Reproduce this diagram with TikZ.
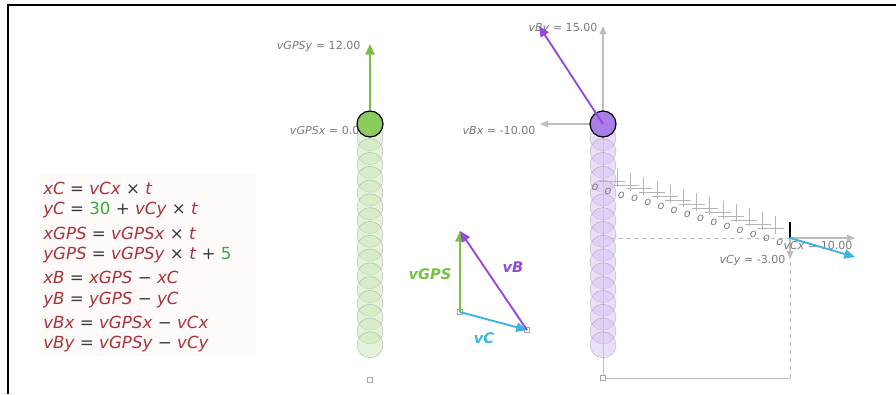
\documentclass[tikz,border=0pt]{standalone}
\usepackage{fontspec}
\setmainfont{DejaVu Sans}
\usepackage{tikz}
\usetikzlibrary{arrows.meta, positioning, calc}
\definecolor{eqRed}{HTML}{A8333B}
\definecolor{eqGreen}{HTML}{3DAA3D}
\definecolor{eqBack}{HTML}{FEFAFA}
\definecolor{opDark}{HTML}{3A3A3A}
\definecolor{labelGray}{HTML}{7A7A7A}
\definecolor{axisGray}{HTML}{BDBDBD}
\definecolor{trailGray}{HTML}{B4B4B4}
\definecolor{gpsStroke}{HTML}{78C040}
\definecolor{gpsFill}{HTML}{8ACB5E}
\definecolor{gpsGhost}{HTML}{CDE8BA}
\definecolor{bStroke}{HTML}{9548D8}
\definecolor{bFill}{HTML}{A97EEA}
\definecolor{bGhost}{HTML}{D8C4F4}
\definecolor{cStroke}{HTML}{3BB4E3}
\newcommand{\vn}[1]{\textit{#1}}
\newcommand{\op}[1]{\textcolor{opDark}{#1}}
\newcommand{\nm}[1]{\textcolor{eqGreen}{#1}}
\tikzset{
  eqline/.style={anchor=west, inner sep=0pt, text=eqRed,
    font=\fontsize{12.5}{14}\selectfont},
  vallabel/.style={inner sep=1pt, text=labelGray,
    font=\fontsize{8.3}{9}\selectfont},
  veclabel/.style={inner sep=1pt, font=\bfseries\itshape\fontsize{11}{13}\selectfont},
  ball/.style={circle, minimum size=19.5pt, inner sep=0pt, draw=black, line width=0.9pt},
  ghostG/.style={circle, minimum size=19.5pt, inner sep=0pt, fill=gpsGhost,
    fill opacity=0.55, draw=gray, draw opacity=0.45},
  ghostB/.style={circle, minimum size=19.5pt, inner sep=0pt, fill=bGhost,
    fill opacity=0.55, draw=gray, draw opacity=0.45},
  marker/.style={rectangle, minimum size=3.8pt, inner sep=0pt, draw=gray!70, fill=white, line width=0.4pt},
  trail/.style={inner sep=0pt, text=gray, font=\itshape\fontsize{8.5}{9}\selectfont},
  axis/.style={-{Triangle[length=6pt, width=5pt]}, axisGray, line width=0.8pt},
  vecG/.style={-{Triangle[length=8pt, width=7pt]}, gpsStroke, line width=1.4pt},
  vecB/.style={-{Triangle[length=8pt, width=7pt]}, bStroke, line width=1.4pt},
  vecC/.style={-{Triangle[length=8pt, width=7pt]}, cStroke, line width=1.4pt},
}

\begin{document}
\begin{tikzpicture}[x=0.75pt, y=-0.75pt]
  \useasboundingbox (0,0) rectangle (896,394);
  \draw[line width=1.5pt] (8,394) -- (8,5) -- (896,5);

  % equations
  \fill[eqBack] (40,174) rectangle (256,356);
  \node[eqline] (eqXC) at (43,188) {\vn{xC} \op{=} \vn{vCx} \op{×} \vn{t}};
  \node[eqline] (eqYC) at (43,210) {\vn{yC} \op{=} \nm{30} \op{+} \vn{vCy} \op{×} \vn{t}};
  \node[eqline] (eqXG) at (43,233) {\vn{xGPS} \op{=} \vn{vGPSx} \op{×} \vn{t}};
  \node[eqline] (eqYG) at (43,255) {\vn{yGPS} \op{=} \vn{vGPSy} \op{×} \vn{t} \op{+} \nm{5}};
  \node[eqline] (eqXB) at (43,277) {\vn{xB} \op{=} \vn{xGPS} \op{−} \vn{xC}};
  \node[eqline] (eqYB) at (43,300) {\vn{yB} \op{=} \vn{yGPS} \op{−} \vn{yC}};
  \node[eqline] (eqVBX) at (43,322) {\vn{vBx} \op{=} \vn{vGPSx} \op{−} \vn{vCx}};
  \node[eqline] (eqVBY) at (43,344) {\vn{vBy} \op{=} \vn{vGPSy} \op{−} \vn{vCy}};

  % GPS column
  \node[vallabel, anchor=east] (lblGy) at (362,47) {\textit{vGPSy} = 12.00};
  \node[vallabel, anchor=east] (lblGx) at (368,130) {\textit{vGPSx} = 0.00};
  \foreach \k in {1,...,16} {
    \node[ghostG] (gG\k) at (370,{124+13.8*\k}) {};
  }
  \coordinate (gpsTip) at (370,44);
  \node[ball, fill=gpsFill] (gpsBall) at (370,124) {};
  \draw[vecG] (gpsBall.north) -- (gpsTip);
  \node[marker] (gpsMark) at (370,380) {};

  % vector triangle
  \node[marker] (triO) at (460,312) {};
  \node[marker] (triC) at (527,330) {};
  \coordinate (triG) at (460,231);
  \draw[vecG] (triO.center) -- (triG);
  \draw[vecC] (triO.center) -- (triC.center);
  \draw[vecB] (triC.center) -- (triG);
  \node[veclabel, text=gpsStroke] (lblVG) at (430,274) {vGPS};
  \node[veclabel, text=bStroke] (lblVB) at (513,267) {vB};
  \node[veclabel, text=cStroke] (lblVC) at (484,338) {vC};

  % B column
  \node[marker] (bMark) at (603,378) {};
  \coordinate (cPos) at (790,238);
  \draw[axisGray, line width=0.5pt] (603,124) -- (bMark.north);
  \draw[axisGray, line width=0.5pt] (bMark.east) -- (cPos |- bMark);
  \draw[axisGray, dashed, line width=0.5pt] (603,238) -- (cPos);
  \draw[axisGray, dashed, line width=0.5pt] (cPos) -- (cPos |- bMark);
  \foreach \k in {1,...,16} {
    \node[ghostB] (gB\k) at (603,{124+13.8*\k}) {};
  }
  \coordinate (bxTip) at (540,124);
  \coordinate (byTip) at (603,26);
  \coordinate (bTip) at (539,26);
  \node[vallabel, anchor=east] (lblBx) at (537,130) {\textit{vBx} = -10.00};
  \node[vallabel, anchor=west] (lblBy) at (527,29) {\textit{vBy} = 15.00};
  \draw[axis] (603,124) -- (bxTip);
  \draw[axis] (603,124) -- (byTip);
  \node[ball, fill=bFill] (bBall) at (603,124) {};
  \draw[vecB] (bBall.center) -- (bTip);

  % C trail
  \foreach \k in {0,...,14} {
    \node[trail] (tr\k) at ({595+13.2*\k},{187+3.95*\k}) {o};
  }
  \foreach \k in {2,...,14} {
    \draw[trailGray, line width=0.5pt] ($(tr\k)+(-4,-26)$) -- ($(tr\k)+(-4,-8)$);
    \draw[trailGray, line width=0.5pt] ($(tr\k)+(-22,-14)$) -- ($(tr\k)+(4,-14)$);
  }
  \draw[black, line width=0.8pt] (cPos) -- ++(0,-16);
  \coordinate (cxTip) at (855,238);
  \coordinate (cyTip) at (790,259);
  \coordinate (cTip) at (855,257);
  \draw[axis] (cPos) -- (cxTip);
  \draw[axis] (cPos) -- (cyTip);
  \node[vallabel, anchor=east] (lblCy) at (787,261) {\textit{vCy} = -3.00};
  \node[vallabel] (lblCx) at (818,245) {\textit{vCx} = 10.00};
  \draw[vecC] (cPos) -- (cTip);
\end{tikzpicture}
\end{document}
